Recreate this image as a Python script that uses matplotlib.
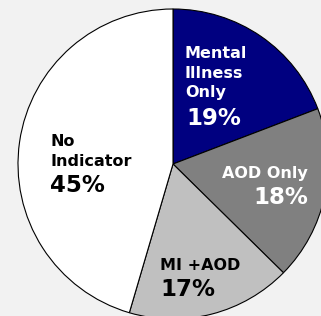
import matplotlib.pyplot as plt

# slice data (clockwise from 12 o'clock)
labels = ["Mental\nIllness\nOnly", "AOD Only", "MI +AOD", "No\nIndicator"]
values = [19, 18, 17, 45]
colors = ["#000080", "#808080", "#c0c0c0", "#ffffff"]
text_colors = ["white", "white", "black", "black"]

W, H = 321, 316
fig = plt.figure(figsize=(W / 100, H / 100), dpi=100, facecolor="#f2f2f2")
ax = fig.add_axes([0, 0, 1, 1])
ax.set_facecolor("#f2f2f2")

ax.pie(values, colors=colors, startangle=90, counterclock=False,
       center=(173, H - 164), radius=155,
       wedgeprops=dict(edgecolor="black", linewidth=0.8))
ax.set_xlim(0, W)
ax.set_ylim(0, H)
ax.set_aspect("auto")
ax.axis("off")

# label layout: (x, baseline of first line, ha) in pixels from top-left
label_pos = [(185, 58, "left"), (308, 178, "right"), (160, 270, "left"), (51, 146, "left")]
pct_pos = [(186, 125, "left"), (308, 204, "right"), (160, 296, "left"), (50, 192, "left")]
pitch = 19.5

for lab, v, tc, (lx, ly, ha), (px, py, pha) in zip(labels, values, text_colors, label_pos, pct_pos):
    for i, line in enumerate(lab.split("\n")):
        ax.text(lx, H - (ly + i * pitch), line, ha=ha, va="baseline",
                fontsize=11.5, fontweight="bold", color=tc, family="DejaVu Sans")
    ax.text(px, H - py, f"{v}%", ha=pha, va="baseline",
            fontsize=16.5, fontweight="bold", color=tc, family="DejaVu Sans")

fig.savefig("out.png", dpi=100, facecolor=fig.get_facecolor())
